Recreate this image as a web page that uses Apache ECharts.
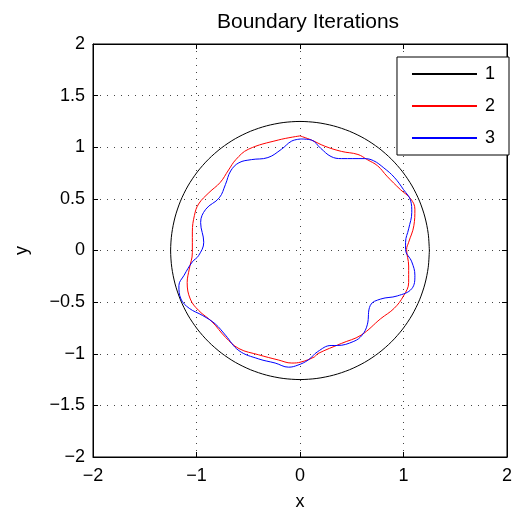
<!DOCTYPE html>
<html>
<head>
<meta charset="utf-8">
<script src="https://cdn.jsdelivr.net/npm/echarts@6/dist/echarts.min.js"></script>
<style>
  html, body { margin: 0; padding: 0; background: #fff; }
  #chart { width: 515px; height: 516px; }
</style>
</head>
<body>
<div id="chart"></div>
<script>
// legend names
var seriesNames = ['1', '2', '3'];

// iteration 1 : circle r = 1.25
var iter1 = [
  [1.25, 0], [1.239, 0.163], [1.207, 0.324], [1.155, 0.478], [1.083, 0.625], [0.992, 0.761],
  [0.884, 0.884], [0.761, 0.992], [0.625, 1.083], [0.478, 1.155], [0.324, 1.207], [0.163, 1.239],
  [0, 1.25], [-0.163, 1.239], [-0.324, 1.207], [-0.478, 1.155], [-0.625, 1.083], [-0.761, 0.992],
  [-0.884, 0.884], [-0.992, 0.761], [-1.083, 0.625], [-1.155, 0.478], [-1.207, 0.324], [-1.239, 0.163],
  [-1.25, 0], [-1.239, -0.163], [-1.207, -0.324], [-1.155, -0.478], [-1.083, -0.625], [-0.992, -0.761],
  [-0.884, -0.884], [-0.761, -0.992], [-0.625, -1.083], [-0.478, -1.155], [-0.324, -1.207], [-0.163, -1.239],
  [0, -1.25], [0.163, -1.239], [0.324, -1.207], [0.478, -1.155], [0.625, -1.083], [0.761, -0.992],
  [0.884, -0.884], [0.992, -0.761], [1.083, -0.625], [1.155, -0.478], [1.207, -0.324], [1.239, -0.163],
  [1.25, 0]
];

// iteration 2 (red)
var iter2 = [
  [0.00, 1.11], [-0.21, 1.07], [-0.50, 0.98], [-0.62, 0.88], [-0.69, 0.78], [-0.77, 0.66],
  [-0.88, 0.56], [-0.98, 0.45], [-1.02, 0.34], [-1.04, 0.18], [-1.04, -0.02], [-1.07, -0.18],
  [-1.09, -0.31], [-1.06, -0.47], [-0.98, -0.58], [-0.85, -0.69], [-0.72, -0.84], [-0.59, -0.95],
  [-0.40, -1.01], [-0.21, -1.06], [-0.08, -1.09], [0.01, -1.08], [0.14, -1.03], [0.17, -1.00],
  [0.40, -0.90], [0.59, -0.82], [0.78, -0.66], [0.91, -0.56], [1.00, -0.44], [1.05, -0.31],
  [1.05, -0.15], [1.03, 0.01], [1.05, 0.08], [1.10, 0.24], [1.11, 0.40], [1.07, 0.50],
  [0.97, 0.59], [0.84, 0.72], [0.75, 0.82], [0.65, 0.88], [0.56, 0.93], [0.40, 0.96],
  [0.24, 1.01], [0.11, 1.07], [0.00, 1.11]
];

// iteration 3 (blue)
var iter3 = [
  [0.01, 1.08], [-0.08, 1.06], [-0.18, 0.98], [-0.31, 0.90], [-0.47, 0.88], [-0.59, 0.85],
  [-0.67, 0.77], [-0.72, 0.64], [-0.78, 0.51], [-0.91, 0.40], [-0.96, 0.27], [-0.93, 0.08],
  [-0.98, -0.05], [-1.04, -0.11], [-1.12, -0.24], [-1.17, -0.34], [-1.15, -0.47], [-1.07, -0.56],
  [-0.94, -0.63], [-0.82, -0.71], [-0.72, -0.82], [-0.59, -0.97], [-0.40, -1.05], [-0.24, -1.09],
  [-0.11, -1.13], [-0.02, -1.11], [0.08, -1.06], [0.17, -0.98], [0.30, -0.92], [0.36, -0.92],
  [0.52, -0.88], [0.60, -0.82], [0.65, -0.72], [0.68, -0.53], [0.78, -0.47], [0.94, -0.44],
  [1.08, -0.37], [1.11, -0.24], [1.08, -0.11], [1.02, 0.01], [1.02, 0.08], [1.05, 0.21],
  [1.08, 0.37], [1.07, 0.48], [1.00, 0.59], [0.91, 0.71], [0.81, 0.80], [0.71, 0.87],
  [0.62, 0.89], [0.40, 0.89], [0.30, 0.91], [0.20, 0.99], [0.11, 1.07], [0.01, 1.08]
];

var chart = echarts.init(document.getElementById('chart'));
var font = 'Liberation Sans, Arial, Helvetica, sans-serif';

function minus(v) { return String(v).replace('-', '\u2212'); }

var gridLine = { show: true, lineStyle: { color: '#444', type: [1, 6], width: 1 } };
var baseAxis = {
  type: 'value', min: -2, max: 2,
  axisLine: { show: true, onZero: false, lineStyle: { color: '#000', width: 1 } },
  axisTick: { show: true, inside: true, length: 5, lineStyle: { color: '#000' } }
};

var option = {
  backgroundColor: '#fff',
  animation: false,
  textStyle: { fontFamily: font },
  title: {
    text: 'Boundary Iterations', left: 303, top: 7, textAlign: 'center',
    textStyle: { fontSize: 21, fontWeight: 'normal', color: '#000', fontFamily: font }
  },
  legend: {
    data: seriesNames,
    orient: 'vertical',
    right: 6, top: 57,
    padding: [8, 14, 8, 14],
    itemWidth: 65, itemHeight: 14, itemGap: 14,
    itemStyle: { opacity: 0 },
    backgroundColor: '#fff',
    borderColor: '#000', borderWidth: 1,
    textStyle: { fontSize: 18, color: '#000', fontFamily: font, padding: [0, 0, 0, 3] }
  },
  grid: {
    left: 93, right: 4, top: 44, bottom: 57, containLabel: false,
    show: true, borderColor: '#000', borderWidth: 1, backgroundColor: 'transparent'
  },
  xAxis: [
    Object.assign({}, baseAxis, {
      position: 'bottom', interval: 1,
      name: 'x', nameLocation: 'middle', nameGap: 36,
      nameTextStyle: { fontSize: 18, color: '#000', fontFamily: font },
      axisLabel: { fontSize: 18, color: '#000', margin: 10, formatter: minus, fontFamily: font },
      splitLine: gridLine
    }),
    Object.assign({}, baseAxis, {
      position: 'top', interval: 1,
      axisLabel: { show: false }, splitLine: { show: false }
    })
  ],
  yAxis: [
    Object.assign({}, baseAxis, {
      position: 'left', interval: 0.5,
      name: 'y', nameLocation: 'middle', nameGap: 62, nameRotate: 90,
      nameTextStyle: { fontSize: 18, color: '#000', fontFamily: font },
      axisLabel: { fontSize: 18, color: '#000', margin: 8, formatter: minus, fontFamily: font },
      splitLine: gridLine
    }),
    Object.assign({}, baseAxis, {
      position: 'right', interval: 0.5,
      axisLabel: { show: false }, splitLine: { show: false }
    })
  ],
  series: [
    { name: seriesNames[0], type: 'line', data: iter1, smooth: 0.3, showSymbol: false, symbol: 'none',
      lineStyle: { color: '#000', width: 1 }, itemStyle: { color: '#000' } },
    { name: seriesNames[1], type: 'line', data: iter2, smooth: 0.4, showSymbol: false, symbol: 'none',
      lineStyle: { color: '#ff0000', width: 1 }, itemStyle: { color: '#ff0000' } },
    { name: seriesNames[2], type: 'line', data: iter3, smooth: 0.4, showSymbol: false, symbol: 'none',
      lineStyle: { color: '#0000ff', width: 1 }, itemStyle: { color: '#0000ff' } }
  ]
};

chart.setOption(option);
</script>
</body>
</html>
